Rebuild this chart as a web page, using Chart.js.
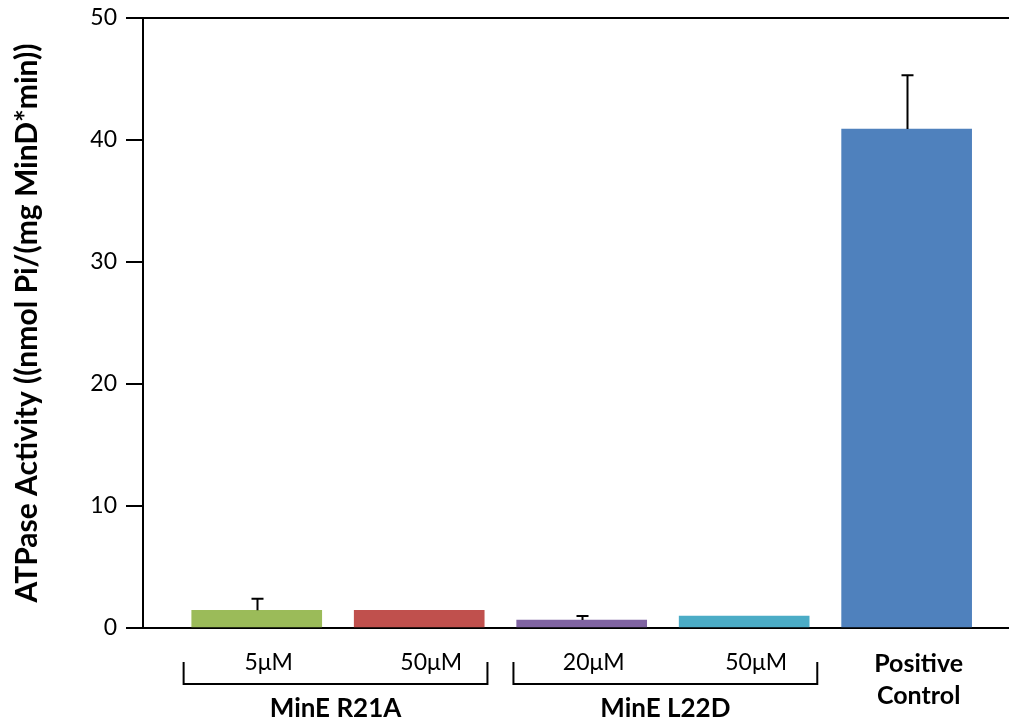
<!DOCTYPE html>
<html>
<head>
<meta charset="utf-8">
<script src="https://cdn.jsdelivr.net/npm/chart.js@4"></script>
<style>
  html, body { margin: 0; padding: 0; background: #fff; }
  #wrap { width: 1009px; height: 721px; }
</style>
</head>
<body>
<div id="wrap"><canvas id="atpaseChart" width="1009" height="721"></canvas></div>
<script>
// values
const categories = ["5\u03bcM", "50\u03bcM", "20\u03bcM", "50\u03bcM", ["Positive", "Control"]];
const activity = [1.45, 1.45, 0.65, 0.98, 40.9];
const errorUp = [0.95, null, 0.33, null, 4.4];
const barColors = ["#9BBB59", "#C0504D", "#8064A2", "#4BACC6", "#4F81BD"];
const yTicks = [0, 10, 20, 30, 40, 50];
const groupNames = ["MinE R21A", "MinE L22D"];
// bracket spans in x-axis units (bar index)
const groupFrom = [-0.45, 1.58];
const groupTo = [1.42, 3.45];

const FONT = "Lato, 'Open Sans', sans-serif";

// error bars + group brackets
const extras = {
  id: "extras",
  afterDatasetsDraw(chart) {
    const { ctx, scales: { x, y } } = chart;
    ctx.save();
    ctx.strokeStyle = "#000";
    ctx.lineWidth = 2;
    activity.forEach((v, i) => {
      if (errorUp[i] == null) return;
      const px = Math.round(x.getPixelForValue(i)) + 0.5;
      const top = y.getPixelForValue(v + errorUp[i]);
      ctx.beginPath();
      ctx.moveTo(px, y.getPixelForValue(v));
      ctx.lineTo(px, top);
      ctx.moveTo(px - 6, top);
      ctx.lineTo(px + 6, top);
      ctx.stroke();
    });
    ctx.restore();
  },
  afterDraw(chart) {
    const { ctx, scales: { x } } = chart;
    ctx.save();
    ctx.strokeStyle = "#000";
    ctx.lineWidth = 2;
    ctx.fillStyle = "#000";
    ctx.font = "bold 26px " + FONT;
    ctx.textAlign = "center";
    ctx.textBaseline = "middle";
    groupNames.forEach((name, g) => {
      const x0 = x.getPixelForValue(groupFrom[g]);
      const x1 = x.getPixelForValue(groupTo[g]);
      ctx.beginPath();
      ctx.moveTo(x0, 662);
      ctx.lineTo(x0, 684);
      ctx.lineTo(x1, 684);
      ctx.lineTo(x1, 662);
      ctx.stroke();
      ctx.fillText(name, (x0 + x1) / 2, 709);
    });
    ctx.restore();
  }
};

new Chart(document.getElementById("atpaseChart").getContext("2d"), {
  type: "bar",
  data: {
    datasets: [{
      data: activity.map((v, i) => ({ x: i, y: v })),
      backgroundColor: barColors,
      borderWidth: 0,
      barThickness: 130
    }]
  },
  options: {
    responsive: false,
    animation: false,
    layout: { padding: { top: 18, right: 0, bottom: 0, left: 0 } },
    plugins: { legend: { display: false }, tooltip: { enabled: false } },
    scales: {
      x: {
        type: "linear",
        min: -0.7,
        max: 4.63,
        offset: false,
        afterBuildTicks: (scale) => { scale.ticks = categories.map((_, i) => ({ value: i })); },
        afterFit: (scale) => { scale.height = 93; scale.paddingLeft = 0; scale.paddingRight = 0; },
        grid: { display: false, drawTicks: false },
        border: { display: true, color: "#000", width: 2 },
        ticks: {
          autoSkip: false,
          maxRotation: 0,
          padding: 20,
          labelOffset: 12,
          color: "#000",
          callback: (value) => categories[value],
          font: (c) => c.index === 4
            ? { family: FONT, size: 25, weight: "bold", lineHeight: 1.28 }
            : { family: FONT, size: 23, weight: "normal", lineHeight: 1.28 }
        }
      },
      y: {
        min: 0,
        max: 50,
        afterBuildTicks: (scale) => { scale.ticks = yTicks.map((v) => ({ value: v })); },
        afterFit: (scale) => { scale.width = 143; scale.paddingTop = 0; scale.paddingBottom = 0; },
        grid: {
          color: (c) => (c.tick && c.tick.value === 50 ? "#000" : "rgba(0,0,0,0)"),
          lineWidth: 2,
          tickColor: "#000",
          tickLength: 17,
          drawTicks: true
        },
        border: { display: true, color: "#000", width: 2 },
        ticks: { color: "#000", padding: 9, font: { family: FONT, size: 23 } },
        title: {
          display: true,
          text: "ATPase Activity ((nmol Pi/(mg MinD*min))",
          color: "#000",
          font: { family: FONT, size: 30, weight: "bold" },
          padding: { top: 9, bottom: 0 }
        }
      }
    }
  },
  plugins: [extras]
});
</script>
</body>
</html>
